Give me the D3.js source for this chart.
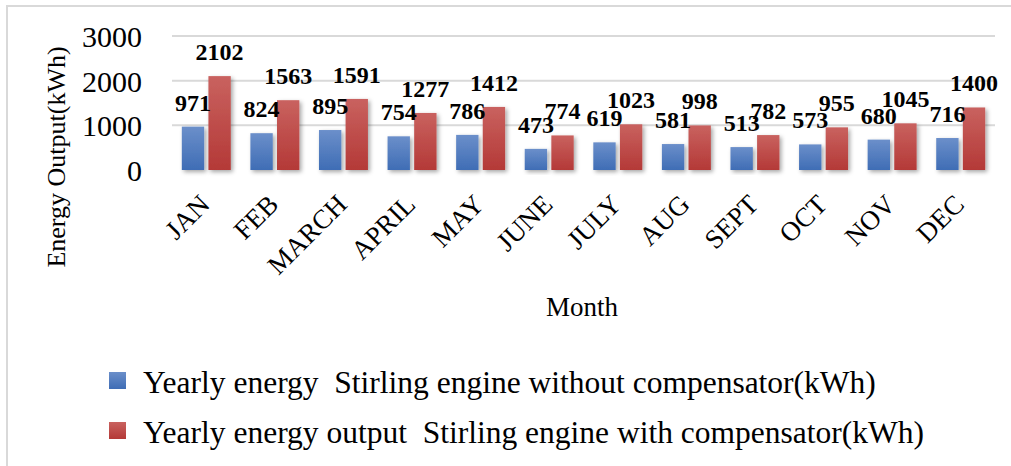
<!DOCTYPE html>
<html>
<head>
<meta charset="utf-8">
<script src="https://cdn.jsdelivr.net/npm/d3@7"></script>
<style>
  body { margin: 0; background: #fff; }
  svg text { font-family: "Liberation Serif", "Times New Roman", serif; }
</style>
</head>
<body>
<div id="chart"></div>
<script>
// data
var months = ["JAN", "FEB", "MARCH", "APRIL", "MAY", "JUNE", "JULY", "AUG", "SEPT", "OCT", "NOV", "DEC"];
var withoutComp = [971, 824, 895, 754, 786, 473, 619, 581, 513, 573, 680, 716];
var withComp = [2102, 1563, 1591, 1277, 1412, 774, 1023, 998, 782, 955, 1045, 1400];
var seriesNames = [
    "Yearly energy  Stirling engine without compensator(kWh)",
    "Yearly energy output  Stirling engine with compensator(kWh)"
];
var yTicks = [0, 1000, 2000, 3000];

var W = 1011, H = 466;
var plot = { left: 172, right: 995, top: 36, bottom: 170 };
var serif = "Liberation Serif";

var svg = d3.select("#chart").append("svg")
    .attr("width", W)
    .attr("height", H);

var defs = svg.append("defs");

// gradients for the bars
var grads = [
    { id: "gBlue", top: "#6b8fca", bottom: "#3f6db5" },
    { id: "gRed", top: "#c9625f", bottom: "#b43937" }
];
grads.forEach(function (g) {
    var lg = defs.append("linearGradient")
        .attr("id", g.id)
        .attr("x1", 0).attr("y1", 0).attr("x2", 0).attr("y2", 1);
    lg.append("stop").attr("offset", "0%").attr("stop-color", g.top);
    lg.append("stop").attr("offset", "100%").attr("stop-color", g.bottom);
});

// soft shadow like the office chart
var f = defs.append("filter").attr("id", "shadow")
    .attr("x", "-30%").attr("y", "-10%").attr("width", "160%").attr("height", "130%");
f.append("feDropShadow")
    .attr("dx", 2).attr("dy", 2)
    .attr("stdDeviation", 2)
    .attr("flood-color", "#000")
    .attr("flood-opacity", 0.35);

// outer border
svg.append("rect")
    .attr("x", 7).attr("y", 6)
    .attr("width", W).attr("height", H)
    .attr("fill", "none")
    .attr("stroke", "#d9d9d9")
    .attr("stroke-width", 2);

// scales
var x = d3.scaleBand()
    .domain(months)
    .range([plot.left, plot.right])
    .paddingInner(0.286)
    .paddingOuter(0.143);

var x1 = d3.scaleBand()
    .domain([0, 1])
    .range([0, x.bandwidth()])
    .paddingInner(0.16);

var y = d3.scaleLinear()
    .domain([0, 3000])
    .range([plot.bottom, plot.top]);

// gridlines
svg.append("g")
    .selectAll("line")
    .data(yTicks.filter(function (d) { return d > 0; }))
    .enter().append("line")
    .attr("x1", plot.left).attr("x2", plot.right)
    .attr("y1", function (d) { return y(d); })
    .attr("y2", function (d) { return y(d); })
    .attr("stroke", "#d9d9d9")
    .attr("stroke-width", 2);

// baseline with shadow
svg.append("line")
    .attr("x1", plot.left).attr("x2", plot.right)
    .attr("y1", y(0)).attr("y2", y(0))
    .attr("stroke", "#d4d4d4")
    .attr("stroke-width", 2)
    .attr("filter", "url(#shadow)");

// y axis labels
var yAxis = svg.append("g")
    .attr("transform", "translate(" + plot.left + ",0)")
    .call(d3.axisLeft(y).tickValues(yTicks).tickFormat(d3.format("d")).tickSize(0).tickPadding(30));
yAxis.select(".domain").remove();
yAxis.attr("font-family", serif);
yAxis.selectAll("text")
    .attr("font-family", serif)
    .attr("font-size", 30)
    .attr("fill", "#000")
    .attr("dy", "0.35em");

// bars
var data = months.map(function (m, i) {
    return { month: m, vals: [withoutComp[i], withComp[i]] };
});

var groups = svg.append("g")
    .selectAll("g")
    .data(data)
    .enter().append("g")
    .attr("transform", function (d) { return "translate(" + x(d.month) + ",0)"; });

groups.selectAll("rect")
    .data(function (d) { return d.vals.map(function (v, k) { return { k: k, v: v }; }); })
    .enter().append("rect")
    .attr("x", function (d) { return x1(d.k); })
    .attr("width", x1.bandwidth())
    .attr("y", function (d) { return y(d.v); })
    .attr("height", function (d) { return y(0) - y(d.v); })
    .attr("fill", function (d) { return d.k === 0 ? "url(#gBlue)" : "url(#gRed)"; })
    .attr("filter", "url(#shadow)");

// value labels
groups.selectAll("text")
    .data(function (d) { return d.vals.map(function (v, k) { return { k: k, v: v }; }); })
    .enter().append("text")
    .attr("x", function (d) { return x1(d.k) + x1.bandwidth() / 2; })
    .attr("y", function (d) { return y(d.v) - 16; })
    .attr("text-anchor", "middle")
    .attr("font-family", serif)
    .attr("font-size", 24)
    .attr("font-weight", "bold")
    .attr("fill", "#000")
    .text(function (d) { return d.v; });

// month labels, rotated
svg.append("g")
    .selectAll("text")
    .data(months)
    .enter().append("text")
    .attr("transform", function (d) {
        return "translate(" + (x(d) + x.bandwidth() / 2 + 5) + ",206) rotate(-45)";
    })
    .attr("text-anchor", "end")
    .attr("font-family", serif)
    .attr("font-size", 27)
    .attr("fill", "#000")
    .text(function (d) { return d; });

// axis titles
svg.append("text")
    .attr("transform", "translate(65,157) rotate(-90)")
    .attr("text-anchor", "middle")
    .attr("font-family", serif)
    .attr("font-size", 26)
    .attr("fill", "#000")
    .text("Energy Output(kWh)");

svg.append("text")
    .attr("x", 582).attr("y", 316)
    .attr("text-anchor", "middle")
    .attr("font-family", serif)
    .attr("font-size", 27)
    .attr("fill", "#000")
    .text("Month");

// legend
var legend = svg.append("g")
    .selectAll("g")
    .data(seriesNames)
    .enter().append("g")
    .attr("transform", function (d, i) { return "translate(109," + (372 + i * 50) + ")"; });

legend.append("rect")
    .attr("width", 17).attr("height", 17)
    .attr("fill", function (d, i) { return i === 0 ? "url(#gBlue)" : "url(#gRed)"; });

legend.append("text")
    .attr("x", 34).attr("y", 21)
    .attr("font-family", serif)
    .attr("font-size", 31.5)
    .attr("fill", "#000")
    .style("white-space", "pre")
    .text(function (d) { return d; });
</script>
</body>
</html>
